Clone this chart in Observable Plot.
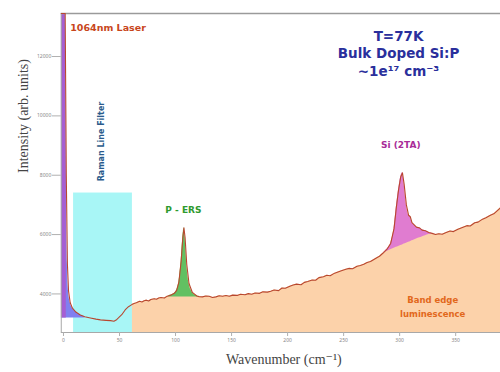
<!DOCTYPE html>
<html>
<head>
<meta charset="utf-8">
<script src="https://cdn.jsdelivr.net/npm/d3@7"></script>
<script src="https://cdn.jsdelivr.net/npm/@observablehq/plot@0.6"></script>
<style>
  html, body { margin: 0; padding: 0; background: #ffffff; }
  #chart svg { display: block; }
</style>
</head>
<body>
<div id="chart"></div>
<script>
// ---- Data ----
// Measured spectrum: wavenumber (cm^-1) and intensity (arb. units)
const wavenumber = [-2, 0, 1.5, 2.5, 3.5, 4.5, 6, 8, 11, 15, 19, 24, 29, 33, 38, 42, 45, 47, 49, 52, 55, 58, 61, 63, 65, 68, 70, 72, 74, 76, 78, 81, 83, 85, 87, 90, 92, 94, 96, 99, 101, 103, 105, 106.5, 107.5, 108.5, 110, 112, 115, 119, 121, 124, 127, 130, 133, 136, 139, 142, 145, 148, 151, 155, 158, 162, 165, 168, 171, 175, 178, 182, 185, 188, 192, 195, 198, 202, 205, 208, 212, 215, 218, 222, 225, 228, 232, 235, 238, 242, 245, 248, 252, 255, 258, 262, 265, 268, 271, 274, 277, 280, 282, 285, 289, 292, 295, 297, 299, 301, 302.5, 304, 306, 308, 309.5, 311, 313, 315, 318, 320, 323, 326, 329, 332, 335, 338, 341, 345, 348, 352, 356, 360, 363, 367, 370, 374, 377, 381, 384, 387, 390];
const intensity  = [13450, 13450, 13450, 8000, 5000, 4100, 3700, 3520, 3390, 3290, 3230, 3190, 3150, 3125, 3110, 3100, 3080, 3120, 3190, 3300, 3460, 3570, 3640, 3680, 3700, 3750, 3730, 3770, 3790, 3760, 3810, 3840, 3820, 3860, 3880, 3860, 3910, 3940, 3960, 4020, 4120, 4400, 5100, 5900, 6230, 5900, 5000, 4350, 4050, 3930, 3910, 3900, 3930, 3920, 3880, 3900, 3940, 3920, 3950, 3920, 3960, 3950, 3990, 3970, 4010, 3990, 4030, 4020, 4070, 4060, 4090, 4130, 4110, 4200, 4190, 4260, 4300, 4330, 4310, 4390, 4420, 4470, 4460, 4550, 4580, 4630, 4610, 4700, 4740, 4780, 4830, 4860, 4850, 4930, 4960, 5000, 5060, 5090, 5160, 5230, 5270, 5370, 5520, 5700, 6200, 6900, 7500, 7950, 8080, 7700, 7000, 6650, 6600, 6400, 6330, 6250, 6220, 6150, 6130, 6070, 6040, 6000, 6030, 6010, 6060, 6120, 6100, 6180, 6240, 6300, 6290, 6400, 6420, 6520, 6570, 6650, 6700, 6800, 6900];

// Laser line (1064 nm) and its tail
const laserW = [-2, 0, 1.5, 2.5];
const laserTailW = [-2, 0, 1.5, 2.5, 3.5, 4.5, 6, 8, 11, 15, 19];
const laserFloor = 3190;

// Raman line filter band
const filterStart = 9;
const filterEnd = 61.5;
const filterTop = 7400;

// Band edge luminescence starts after the filter
const bandStart = 61;

// P - ERS peak and its base
const persW  = [94, 96, 99, 101, 103, 105, 106.5, 107.5, 108.5, 110, 112, 115, 119, 121];
const persLo = [3900, 3900, 3900, 3900, 3900, 3900, 3900, 3900, 3900, 3900, 3900, 3900, 3900, 3900];

// Si (2TA) peak and its base
const siW  = [285, 289, 292, 295, 297, 299, 301, 302.5, 304, 306, 308, 309.5, 311, 313, 315, 318, 320, 323, 326, 329, 332];
const siLo = [5380, 5440, 5490, 5540, 5570, 5600, 5630, 5650, 5680, 5710, 5740, 5760, 5790, 5820, 5850, 5890, 5920, 5960, 6000, 6020, 6000];

// Tick labels
const xTicks = [0, 50, 100, 150, 200, 250, 300, 350];
const yTicks = [4000, 6000, 8000, 10000, 12000];

// ---- Tables built from the arrays ----
const curve = wavenumber.map((w, i) => ({w, I: intensity[i]}));
const lookup = new Map(curve.map(d => [d.w, d.I]));
const laser = laserW.map(w => ({w, lo: laserFloor, hi: lookup.get(w)}));
const laserTail = laserTailW.map(w => ({w, lo: laserFloor, hi: lookup.get(w)}));
const band = curve.filter(d => d.w >= bandStart);
const pers = persW.map((w, i) => ({w, lo: persLo[i], hi: lookup.get(w)}));
const si = siW.map((w, i) => ({w, lo: siLo[i], hi: lookup.get(w)}));
const filterBand = [{x1: filterStart, x2: filterEnd, y2: filterTop}];

const yMin = 2700, yMax = 13450;
const annoFont = "'DejaVu Sans', Verdana, sans-serif";

const chart = Plot.plot({
  width: 500,
  height: 372,
  marginLeft: 60.75,
  marginRight: 0,
  marginTop: 13,
  marginBottom: 40,
  x: {domain: [-2, 390]},
  y: {domain: [yMin, yMax]},
  style: {background: "#ffffff", overflow: "visible"},
  marks: [
    // band edge luminescence fill
    Plot.areaY(band, {x: "w", y1: yMin, y2: "I", fill: "#fcd2aa", clip: true}),
    // Raman line filter
    Plot.rect(filterBand, {x1: "x1", x2: "x2", y1: yMin, y2: "y2", fill: "#a8f6f6", clip: true}),
    // laser tail & laser line
    Plot.areaY(laserTail, {x: "w", y1: "lo", y2: "hi", fill: "#8080f0", curve: "monotone-x", clip: true}),
    Plot.areaY(laser, {x: "w", y1: "lo", y2: "hi", fill: "#a65ed2", clip: true}),
    // peaks
    Plot.areaY(pers, {x: "w", y1: "lo", y2: "hi", fill: "#62c062", curve: "monotone-x", clip: true}),
    Plot.areaY(si, {x: "w", y1: "lo", y2: "hi", fill: "#e07cd0", curve: "monotone-x", clip: true}),
    // frame lines
    Plot.ruleY([yMax], {stroke: "#9a9a9a", strokeWidth: 1.5}),
    Plot.ruleY([yMin], {stroke: "#a8a8a8", strokeWidth: 1.2}),
    Plot.ruleX([-2], {stroke: "#a8a8a8", strokeWidth: 1}),
    // measured spectrum
    Plot.line(curve, {x: "w", y: "I", stroke: "#b8472f", strokeWidth: 1.1, clip: true}),
    // axes
    Plot.axisX(xTicks, {tickSize: 4, tickPadding: 2, fontSize: 5, stroke: "#b0b0b0", fill: "#888", label: null, tickFormat: d => String(d)}),
    Plot.axisY(yTicks, {tickSize: 9, tickPadding: 1, fontSize: 5, stroke: "#b0b0b0", fill: "#888", label: null, tickFormat: d => String(d)}),
    // axis titles
    Plot.text(["Intensity (arb. units)"], {frameAnchor: "left", dx: -38, rotate: -90, fontSize: 14, fontFamily: "'Liberation Serif', 'DejaVu Serif', serif", fill: "#444"}),
    Plot.text(["Wavenumber (cm\u207B\u00B9)"], {frameAnchor: "bottom", dy: 31, dx: 3, fontSize: 14, fontFamily: "'Liberation Serif', 'DejaVu Serif', serif", fill: "#444"}),
    // annotations
    Plot.text(["1064nm Laser"], {x: 6, y: 12950, textAnchor: "start", fontSize: 9.5, fontWeight: "bold", fontFamily: annoFont, fill: "#c8461c"}),
    Plot.text(["Raman Line Filter"], {x: 34, y: 9135, rotate: -90, fontSize: 8, fontWeight: "bold", fontFamily: annoFont, fill: "#2a5b8c"}),
    Plot.text(["P - ERS"], {x: 107, y: 6810, fontSize: 9, fontWeight: "bold", fontFamily: annoFont, fill: "#2e9a2e"}),
    Plot.text(["Si (2TA)"], {x: 301, y: 9000, fontSize: 9, fontWeight: "bold", fontFamily: annoFont, fill: "#a82c98"}),
    Plot.text(["Band edge\nluminescence"], {x: 329.5, y: 3613, lineHeight: 1.7, fontSize: 8.5, fontWeight: "bold", fontFamily: annoFont, fill: "#e2681c"}),
    Plot.text(["T=77K\nBulk Doped Si:P\n~1e\u00B9\u2077 cm\u207B\u00B3"], {x: 299, y: 12133, lineHeight: 1.3, fontSize: 13.5, fontWeight: "bold", fontFamily: annoFont, fill: "#2a2f9c"})
  ]
});
document.getElementById("chart").appendChild(chart);
</script>
</body>
</html>
